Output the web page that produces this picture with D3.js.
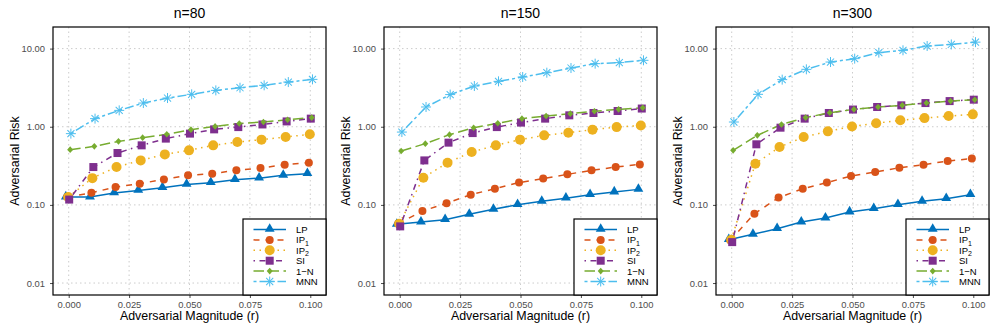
<!DOCTYPE html>
<meta charset="utf-8">
<style>
body { margin: 0; background: #fff; }
svg { font-family: "Liberation Sans", Arial, sans-serif; }
.tick text { fill: #4d4d4d; font-size: 9.4px; }
.tick line { stroke: #4d4d4d; }
.grid line { stroke: #cccccc; stroke-dasharray: 1.5 3; }
</style>
<svg width="996" height="332"></svg>
<script src="https://d3js.org/d3.v7.min.js"></script>
<script>
var magnitudes = [0, 0.01, 0.02, 0.03, 0.04, 0.05, 0.06, 0.07, 0.08, 0.09, 0.1];
var methods = ["LP", "IP1", "IP2", "SI", "1-N", "MNN"];
var panelTitles = ["n=80", "n=150", "n=300"];
var xTicks = [0, 0.025, 0.05, 0.075, 0.1];
var yTicks = [0.01, 0.1, 1, 10];

var risk80 = {
  "LP":  [0.126, 0.126, 0.142, 0.153, 0.166, 0.183, 0.192, 0.210, 0.220, 0.239, 0.251],
  "IP1": [0.126, 0.143, 0.169, 0.187, 0.212, 0.239, 0.251, 0.277, 0.296, 0.327, 0.347],
  "IP2": [0.126, 0.220, 0.305, 0.371, 0.443, 0.499, 0.578, 0.637, 0.684, 0.738, 0.800],
  "SI":  [0.117, 0.305, 0.461, 0.578, 0.705, 0.817, 0.926, 0.99, 1.07, 1.17, 1.27],
  "1-N": [0.509, 0.561, 0.650, 0.725, 0.80, 0.918, 1.01, 1.10, 1.15, 1.23, 1.31],
  "MNN": [0.816, 1.27, 1.62, 2.01, 2.33, 2.60, 2.92, 3.16, 3.39, 3.73, 4.04]
};
var risk150 = {
  "LP":  [0.0564, 0.0603, 0.0647, 0.0757, 0.0877, 0.1007, 0.111, 0.122, 0.135, 0.146, 0.158],
  "IP1": [0.0575, 0.0834, 0.105, 0.135, 0.161, 0.193, 0.217, 0.246, 0.277, 0.305, 0.330],
  "IP2": [0.0575, 0.223, 0.347, 0.475, 0.578, 0.684, 0.776, 0.84, 0.918, 0.99, 1.04],
  "SI":  [0.0531, 0.371, 0.626, 0.830, 0.99, 1.13, 1.27, 1.40, 1.50, 1.59, 1.71],
  "1-N": [0.489, 0.608, 0.792, 0.973, 1.11, 1.27, 1.37, 1.47, 1.58, 1.67, 1.75],
  "MNN": [0.855, 1.79, 2.58, 3.32, 3.81, 4.33, 4.92, 5.64, 6.42, 6.62, 7.08]
};
var risk300 = {
  "LP":  [0.0359, 0.0420, 0.0496, 0.0603, 0.0678, 0.081, 0.0895, 0.1007, 0.111, 0.120, 0.135],
  "IP1": [0.0352, 0.0772, 0.124, 0.161, 0.193, 0.234, 0.263, 0.299, 0.327, 0.364, 0.391],
  "IP2": [0.0359, 0.337, 0.550, 0.738, 0.873, 1.01, 1.11, 1.21, 1.29, 1.37, 1.44],
  "SI":  [0.0334, 0.596, 0.973, 1.27, 1.50, 1.66, 1.79, 1.88, 2.01, 2.13, 2.22],
  "1-N": [0.499, 0.776, 1.07, 1.31, 1.51, 1.67, 1.79, 1.88, 2.01, 2.13, 2.22],
  "MNN": [1.15, 2.60, 4.01, 5.43, 6.73, 7.44, 8.88, 9.51, 10.8, 11.3, 12.1]
};
var panelData = [risk80, risk150, risk300];

// styling per method
var colors = {"LP": "#0072BD", "IP1": "#D95319", "IP2": "#EDB120", "SI": "#7E2F8E", "1-N": "#77AC30", "MNN": "#4DBEEE"};
var dashes = {"LP": null, "IP1": "6 6", "IP2": "1.5 4.5", "SI": "1.5 4.5 6 4.5", "1-N": "10.5 4.5", "MNN": "3 3 9 3"};
var dodge = {"LP": -0.0012, "IP1": -0.0006, "IP2": -0.0002, "SI": 0.0002, "1-N": 0.0006, "MNN": 0.0009};

var svg = d3.select("svg");
var panelLeft = [53, 384, 716],
    panelW = 273,
    plotTop = 27,
    plotBottom = 295;

var y = d3.scaleLog().domain([0.00703, 18.9]).range([plotBottom, plotTop]);

function marker(sel, m, cx, cy) {
  var c = colors[m];
  if (m == "LP") {
    sel.append("path").attr("d", d3.symbol(d3.symbolTriangle, 42)()).attr("transform", "translate(" + cx + "," + (cy - 0.5) + ")").attr("fill", c);
  } else if (m == "IP1") {
    sel.append("circle").attr("cx", cx).attr("cy", cy).attr("r", 4).attr("fill", c);
  } else if (m == "IP2") {
    sel.append("circle").attr("cx", cx).attr("cy", cy).attr("r", 5).attr("fill", c);
  } else if (m == "SI") {
    sel.append("rect").attr("x", cx - 4).attr("y", cy - 4).attr("width", 8).attr("height", 8).attr("fill", c);
  } else if (m == "1-N") {
    sel.append("path").attr("d", "M0,-3.3L3,0L0,3.3L-3,0Z").attr("transform", "translate(" + cx + "," + cy + ")").attr("fill", c);
  } else {
    var g = sel.append("g").attr("transform", "translate(" + cx + "," + cy + ")").attr("stroke", c).attr("stroke-width", 1);
    [0, 45, 90, 135].forEach(function(a) {
      g.append("line").attr("x1", 0).attr("y1", -5).attr("x2", 0).attr("y2", 5).attr("transform", "rotate(" + a + ")");
    });
  }
}

panelData.forEach(function(data, p) {
  var x0 = panelLeft[p];
  var x = d3.scaleLinear().domain([-0.0065, 0.1065]).range([x0, x0 + panelW]);
  var g = svg.append("g");

  // grid
  var grid = g.append("g").attr("class", "grid");
  xTicks.forEach(function(t) {
    grid.append("line").attr("x1", x(t)).attr("x2", x(t)).attr("y1", plotTop).attr("y2", plotBottom);
  });
  yTicks.forEach(function(t) {
    grid.append("line").attr("x1", x0).attr("x2", x0 + panelW).attr("y1", y(t)).attr("y2", y(t));
  });

  // lines
  methods.forEach(function(m) {
    var pts = magnitudes.map(function(r, i) { return [x(r + dodge[m]), y(data[m][i])]; });
    g.append("path")
      .attr("d", d3.line()(pts))
      .attr("fill", "none")
      .attr("stroke", colors[m])
      .attr("stroke-width", 1.5)
      .attr("stroke-dasharray", dashes[m]);
  });
  methods.forEach(function(m) {
    var mg = g.append("g");
    magnitudes.forEach(function(r, i) { marker(mg, m, x(r + dodge[m]), y(data[m][i])); });
  });

  // axes
  g.append("g")
    .attr("transform", "translate(0," + plotBottom + ")")
    .call(d3.axisBottom(x).tickValues(xTicks).tickFormat(d3.format(".3f")).tickSize(3).tickPadding(3))
    .call(function(a) { a.select(".domain").remove(); });
  g.append("g")
    .attr("transform", "translate(" + x0 + ",0)")
    .call(d3.axisLeft(y).tickValues(yTicks).tickFormat(d3.format(".2f")).tickSize(3).tickPadding(5))
    .call(function(a) { a.select(".domain").remove(); });

  g.append("rect")
    .attr("x", x0).attr("y", plotTop).attr("width", panelW).attr("height", plotBottom - plotTop)
    .attr("fill", "none").attr("stroke", "#000").attr("stroke-width", 1.2);

  // titles
  g.append("text").attr("x", x0 + panelW / 2).attr("y", 18).attr("text-anchor", "middle")
    .style("font-size", "14px").text(panelTitles[p]);
  g.append("text").attr("x", x0 + panelW / 2).attr("y", 320).attr("text-anchor", "middle")
    .style("font-size", "12.4px").text("Adversarial Magnitude (r)");
  g.append("text").attr("transform", "translate(" + (x0 - 34.5) + "," + ((plotTop + plotBottom) / 2) + ") rotate(-90)")
    .attr("text-anchor", "middle").style("font-size", "12.4px").text("Adversarial Risk");

  // legend
  var lx = x0 + panelW - 83, ly = plotBottom - 76;
  var leg = g.append("g");
  leg.append("rect").attr("x", lx).attr("y", ly).attr("width", 83).attr("height", 76)
    .attr("fill", "#fff").attr("stroke", "#000").attr("stroke-width", 1.2);
  methods.forEach(function(m, i) {
    var ry = ly + 10.5 + 10.4 * i;
    leg.append("line").attr("x1", lx + 10.5).attr("x2", lx + 43).attr("y1", ry).attr("y2", ry)
      .attr("stroke", colors[m]).attr("stroke-width", 1.5).attr("stroke-dasharray", dashes[m]);
    marker(leg, m, lx + 26.7, ry);
    var t = leg.append("text").attr("x", lx + 53).attr("y", ry + 3.5).style("font-size", "9.5px");
    if (m == "IP1" || m == "IP2") {
      t.append("tspan").text("IP");
      t.append("tspan").attr("dy", 2.5).style("font-size", "7px").text(m.slice(2));
    } else {
      t.text(m.replace("-", "\u2212"));
    }
  });
});
</script>
